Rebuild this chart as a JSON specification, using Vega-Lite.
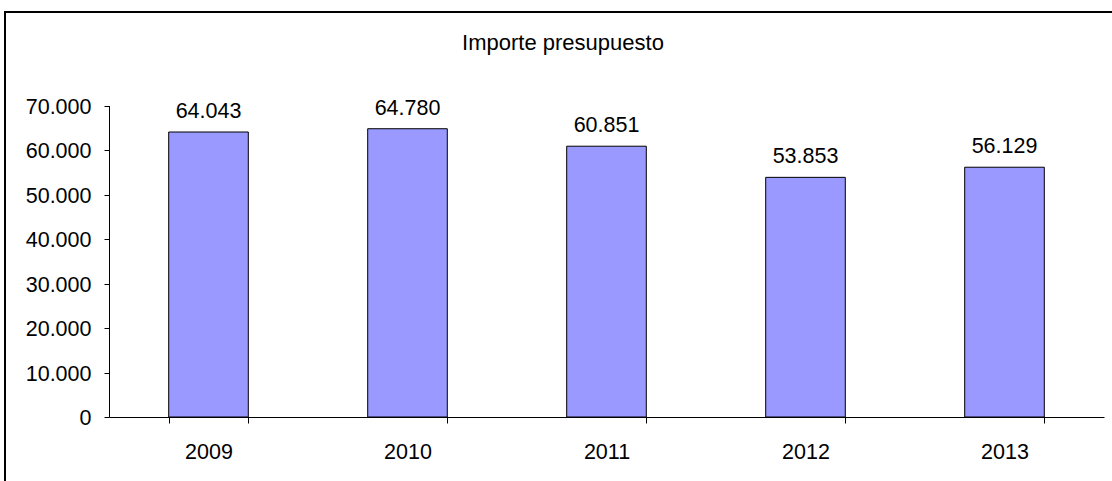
{
  "$schema": "https://vega.github.io/schema/vega-lite/v6.json",
  "width": 1120,
  "height": 480,
  "autosize": {"type": "none"},
  "padding": {"left": 5, "top": 12, "right": -13, "bottom": -11},
  "background": "white",
  "title": {
    "text": "Importe presupuesto",
    "fontSize": 22,
    "font": "Liberation Sans",
    "fontWeight": "normal",
    "color": "black",
    "anchor": "middle",
    "baseline": "alphabetic",
    "offset": -38,
    "dy": 22,
    "dx": -2
  },
  "config": {
    "view": {"stroke": "black", "strokeWidth": 2},
    "font": "Liberation Sans",
    "locale": {"number": {"decimal": ",", "thousands": ".", "grouping": [3], "currency": ["", " €"]}}
  },
  "data": {
    "values": [
      {"year": "2009", "importe": 64043},
      {"year": "2010", "importe": 64780},
      {"year": "2011", "importe": 60851},
      {"year": "2012", "importe": 53853},
      {"year": "2013", "importe": 56129}
    ]
  },
  "encoding": {
    "x": {
      "field": "year",
      "type": "ordinal",
      "scale": {"range": [104, 1099], "paddingInner": 0.6, "paddingOuter": 0.3},
      "axis": {
        "title": null,
        "orient": "bottom",
        "offset": -75,
        "tickBand": "extent",
        "labelAngle": 0,
        "labelFontSize": 21.5,
        "labelColor": "black",
        "labelFont": "Liberation Sans",
        "labelPadding": 18,
        "tickSize": 6,
        "tickColor": "black",
        "domainColor": "black",
        "grid": false
      }
    },
    "y": {
      "field": "importe",
      "type": "quantitative",
      "scale": {"domain": [0, 70000], "range": [405, 93.5], "nice": false, "zero": true},
      "axis": {
        "title": null,
        "orient": "left",
        "offset": -104,
        "values": [0, 10000, 20000, 30000, 40000, 50000, 60000, 70000],
        "labelExpr": "format(datum.value, ',')",
        "labelFontSize": 21.5,
        "labelColor": "black",
        "labelFont": "Liberation Sans",
        "labelPadding": 13,
        "labelOffset": 1.5,
        "tickSize": 5,
        "tickColor": "black",
        "domainColor": "black",
        "grid": false
      }
    }
  },
  "layer": [
    {
      "mark": {"type": "bar", "fill": "#9999FF", "stroke": "black", "strokeWidth": 1}
    },
    {
      "mark": {"type": "text", "baseline": "alphabetic", "dy": -14, "fontSize": 21.5, "color": "black", "font": "Liberation Sans"},
      "encoding": {
        "text": {"field": "importe", "type": "quantitative", "format": ","}
      }
    }
  ]
}
